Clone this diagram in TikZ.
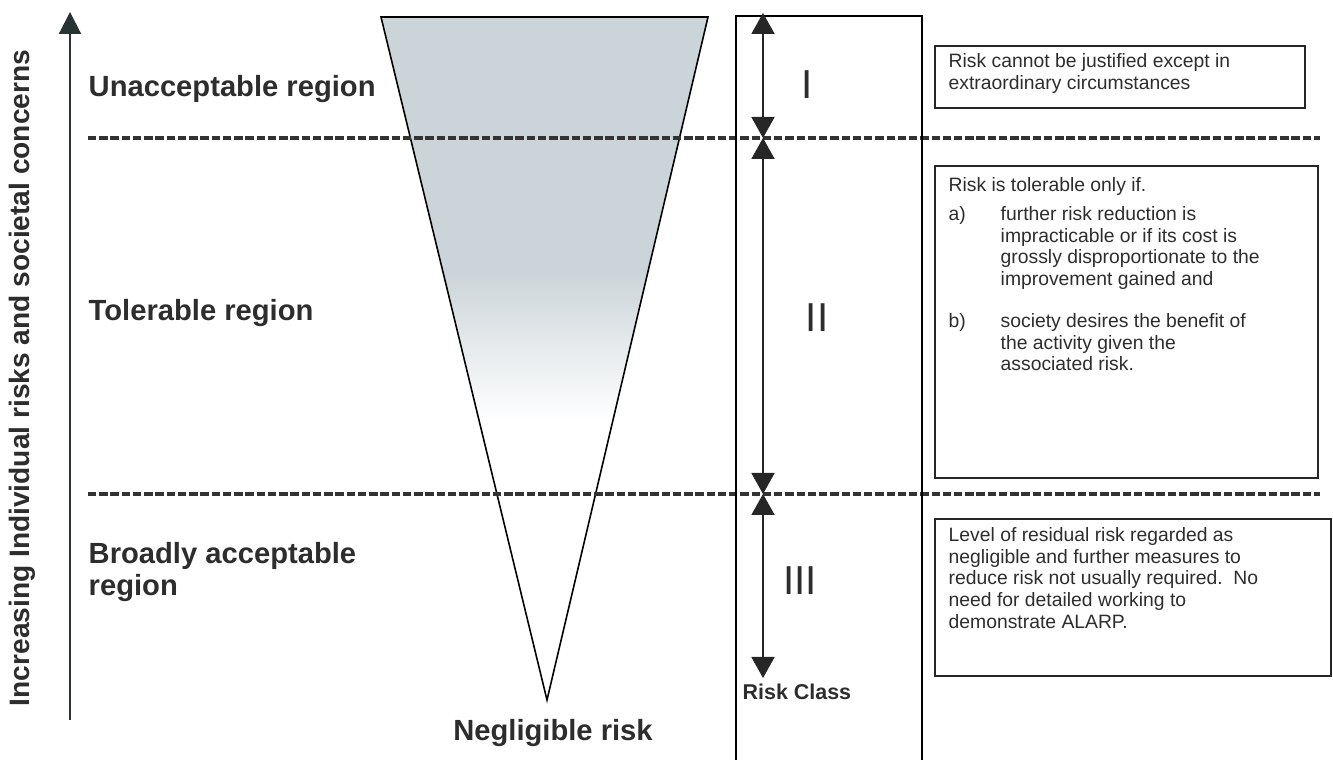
\documentclass[tikz,border=0pt]{standalone}
\usepackage{fontspec}
\setmainfont{Liberation Sans}
\usetikzlibrary{arrows.meta}

\definecolor{conefill}{RGB}{203,212,216}
\definecolor{classdark}{RGB}{40,52,52}
\definecolor{inkgray}{RGB}{45,45,45}

\begin{document}
\begin{tikzpicture}[>=Stealth, line join=miter]
		
		% ================= 1. styles =================
		\tikzset{
			region/.style={anchor=west, inner sep=0pt, align=left, text=inkgray,
				font=\fontsize{8.3}{9.1}\selectfont\bfseries},
			numeral/.style={inner sep=0pt, text=inkgray, font=\fontsize{11.5}{12}\selectfont},
			notebox/.style={draw=black!85, line width=0.5pt},
			note/.style={anchor=north west, inner sep=0pt, align=left, text=inkgray,
				font=\fontsize{5.5}{6.15}\selectfont},
			limit/.style={dash pattern=on 2.4pt off 0.8pt, line width=1pt, draw=black!80},
			classarrow/.style={{Triangle[width=2.3mm,length=2.1mm]}-{Triangle[width=2.3mm,length=2.1mm]},
				line width=0.55pt, draw=black!85, fill=classdark}
		}
		\useasboundingbox (0,0) rectangle (13.33,-7.60);
		
		% ================= 2. vertical axis =================
		\coordinate (axbot) at (0.70,-7.20);
		\coordinate (axtop) at (0.70,-0.12);
		\draw[-{Triangle[width=2.2mm,length=2.2mm]}, line width=0.6pt, classdark] (axbot) -- (axtop);
		\node[rotate=90, text=inkgray, font=\fontsize{8}{9}\selectfont\bfseries] (axlabel) at (0.22,-3.78)
		{Increasing Individual risks and societal concerns};
		
		% ================= 3. risk cone, shaded at the wide end =================
		\coordinate (tl) at (3.81,-0.17);
		\coordinate (tr) at (7.08,-0.17);
		\coordinate (apex) at (5.47,-7.00);
		\begin{scope}
			\clip (tl) -- (tr) -- (apex) -- cycle;
			\fill[conefill] (3.8,-0.1) rectangle (7.1,-2.7);
			\shade[top color=conefill, bottom color=white] (3.8,-2.7) rectangle (7.1,-4.2);
		\end{scope}
		\draw[line width=0.45pt] (tl) -- (tr) -- (apex) -- cycle;
		\node[text=inkgray, inner sep=0pt, font=\fontsize{8.3}{9.1}\selectfont\bfseries] (neglig) at (5.53,-7.33) {Negligible risk};
		
		% ================= 4. region limits and labels =================
		\draw[limit] (0.88,-1.38) -- (13.20,-1.38);
		\draw[limit] (0.88,-4.94) -- (13.20,-4.94);
		
		\node[region] (unacc) at (0.88,-0.89) {Unacceptable region};
		\node[region] (toler) at (0.88,-3.13) {Tolerable region};
		\node[region] (broad) at (0.88,-5.72) {Broadly acceptable\\region};
		
		% ================= 5. risk class column =================
		\draw[line width=0.5pt] (7.36,-7.60) |- (9.22,-0.16) -- (9.22,-7.60);
		\coordinate (k0) at (7.63,-0.13);
		\coordinate (k1) at (7.63,-1.38);
		\coordinate (k2) at (7.63,-4.94);
		\coordinate (k3) at (7.63,-6.78);
		\draw[classarrow] (k0) -- (k1);
		\draw[classarrow] (k1) -- (k2);
		\draw[classarrow] (k2) -- (k3);
		
		\node[numeral] (cls1) at (8.07,-0.85) {I};
		\node[numeral] (cls2) at (8.17,-3.18) {II};
		\node[numeral] (cls3) at (8.00,-5.81) {III};
		\node[anchor=west, inner sep=0pt, text=inkgray, font=\fontsize{6.1}{7}\selectfont\bfseries] (classlbl) at (7.42,-6.92) {Risk Class};
		
		% ================= 6. descriptions =================
		\draw[notebox] (9.35,-0.46) rectangle (13.05,-1.08);
		\node[note] (desc1) at (9.48,-0.53) {Risk cannot be justified except in\\extraordinary circumstances};
		
		\draw[notebox] (9.35,-1.66) rectangle (13.18,-4.78);
		\node[note] (desc2) at (9.48,-1.77) {Risk is tolerable only if.};
		\node[note] (itema) at (9.48,-2.06) {a)};
		\node[note] (itemabody) at (10.00,-2.06) {further risk reduction is\\impracticable or if its cost is\\grossly disproportionate to the\\improvement gained and};
		\node[note] (itemb) at (9.48,-3.13) {b)};
		\node[note] (itembbody) at (10.00,-3.13) {society desires the benefit of\\the activity given the\\associated risk.};
		
		\draw[notebox] (9.35,-5.19) rectangle (13.31,-6.76);
		\node[note] (desc3) at (9.48,-5.27) {Level of residual risk regarded as\\negligible and further measures to\\reduce risk not usually required.\ \ No\\need for detailed working to\\demonstrate ALARP.};
		
	\end{tikzpicture}
\end{document}
